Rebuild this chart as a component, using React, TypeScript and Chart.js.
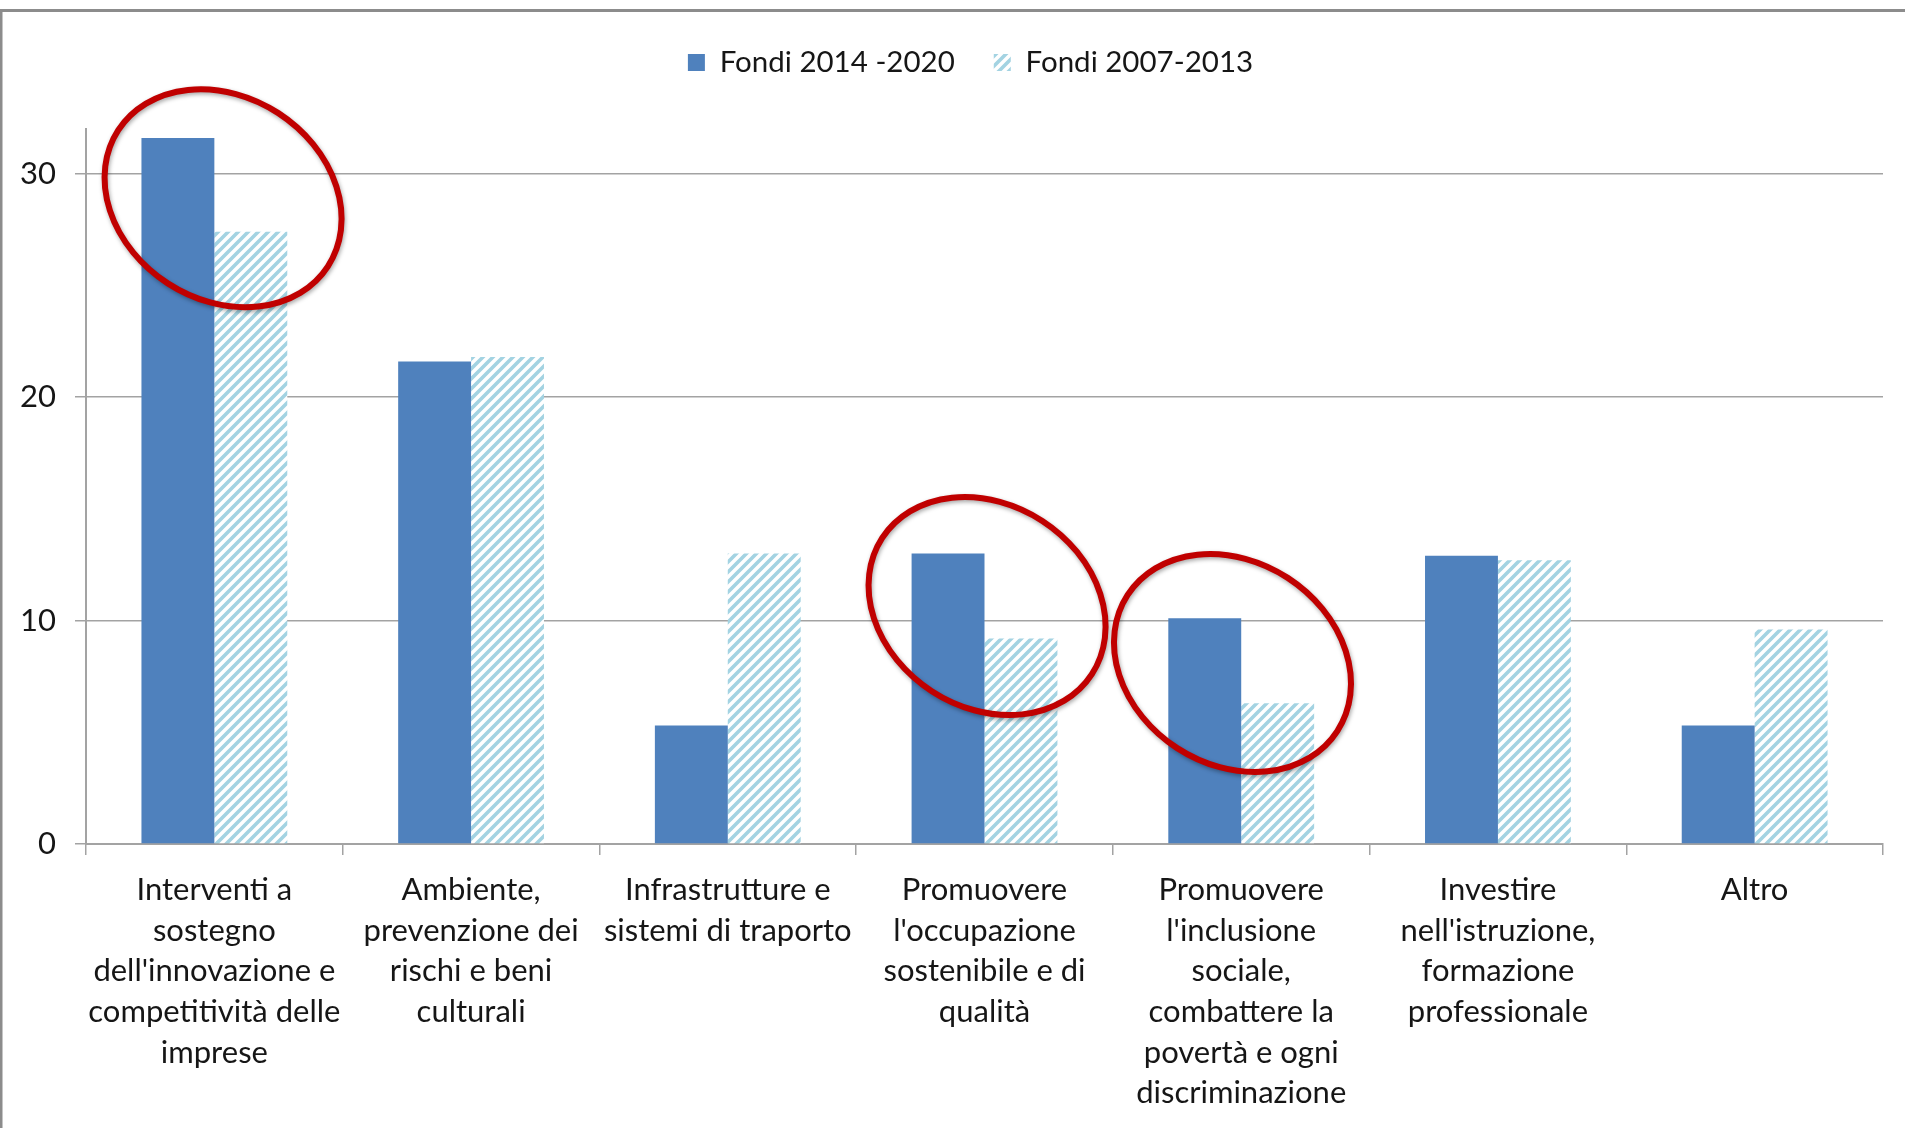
import React, { useEffect, useRef } from "react";
import { Chart, registerables } from "chart.js";

Chart.register(...registerables);

const categories: string[][] = [
  ["Interventi a", "sostegno", "dell'innovazione e", "competitività delle", "imprese"],
  ["Ambiente,", "prevenzione dei", "rischi e beni", "culturali"],
  ["Infrastrutture e", "sistemi di traporto"],
  ["Promuovere", "l'occupazione", "sostenibile e di", "qualità"],
  ["Promuovere", "l'inclusione", "sociale,", "combattere la", "povertà e ogni", "discriminazione"],
  ["Investire", "nell'istruzione,", "formazione", "professionale"],
  ["Altro"],
];

const seriesNames = ["Fondi 2014 -2020", "Fondi 2007-2013"];
const fondi20142020 = [31.6, 21.6, 5.3, 13.0, 10.1, 12.9, 5.3];
const fondi20072013 = [27.4, 21.8, 13.0, 9.2, 6.3, 12.7, 9.6];

// highlighted groups: category index, horizontal offset (in categories), centre value
const highlightCategory = [0, 3, 4];
const highlightOffset = [0.034, 0.01, -0.034];
const highlightValue = [28.9, 10.65, 8.1];

const FONT = "Lato, 'Open Sans', sans-serif";
const TEXT = "#161616";
const GRID = "#a3a3a3";
const LEGEND_SHIFT = 29;

function makeHatch(): CanvasPattern | string {
  const s = 10;
  const c = document.createElement("canvas");
  c.width = s;
  c.height = s;
  const g = c.getContext("2d");
  if (!g) return "#a3d3e2";
  g.fillStyle = "#ffffff";
  g.fillRect(0, 0, s, s);
  g.strokeStyle = "#a3d3e2";
  g.lineWidth = 3.6;
  g.lineCap = "square";
  g.beginPath();
  g.moveTo(-2, 2);
  g.lineTo(2, -2);
  g.moveTo(0, s);
  g.lineTo(s, 0);
  g.moveTo(s - 2, s + 2);
  g.lineTo(s + 2, s - 2);
  g.stroke();
  const p = g.createPattern(c, "repeat");
  return p || "#a3d3e2";
}

const framePlugin = {
  id: "frame",
  beforeDraw(chart: any) {
    const ctx = chart.ctx;
    ctx.save();
    ctx.fillStyle = "#ffffff";
    ctx.fillRect(0, 0, chart.width, chart.height);
    ctx.strokeStyle = "#8c8c8c";
    ctx.lineWidth = 3;
    ctx.beginPath();
    ctx.moveTo(0, 10.5);
    ctx.lineTo(chart.width, 10.5);
    ctx.moveTo(1, 10);
    ctx.lineTo(1, chart.height);
    ctx.stroke();
    ctx.restore();
  },
};

const legendShiftPlugin = {
  id: "legendShift",
  afterLayout(chart: any) {
    const lg = chart.legend;
    if (lg) {
      lg.left += LEGEND_SHIFT;
      lg.right += LEGEND_SHIFT;
    }
  },
};

const ellipsePlugin = {
  id: "highlights",
  afterDatasetsDraw(chart: any) {
    const ctx = chart.ctx;
    const xs = chart.scales.x;
    const ys = chart.scales.y;
    const catW = xs.getPixelForValue(1) - xs.getPixelForValue(0);
    ctx.save();
    ctx.strokeStyle = "#c00000";
    ctx.lineWidth = 6;
    ctx.shadowColor = "rgba(0,0,0,0.35)";
    ctx.shadowBlur = 4;
    ctx.shadowOffsetX = 1;
    ctx.shadowOffsetY = 2;
    highlightCategory.forEach((ci, i) => {
      const cx = xs.getPixelForValue(ci) + highlightOffset[i] * catW;
      const cy = ys.getPixelForValue(highlightValue[i]);
      ctx.beginPath();
      ctx.ellipse(cx, cy, 125, 101.5, (33 * Math.PI) / 180, 0, Math.PI * 2);
      ctx.stroke();
    });
    ctx.restore();
  },
};

export default function App() {
  const ref = useRef<HTMLCanvasElement | null>(null);

  useEffect(() => {
    if (!ref.current) return;
    document.body.style.margin = "0";
    const hatch = makeHatch();
    const chart = new Chart(ref.current, {
      type: "bar",
      data: {
        labels: categories,
        datasets: [
          {
            label: seriesNames[0],
            data: fondi20142020,
            backgroundColor: "#4f81bd",
            borderWidth: 0,
            categoryPercentage: 0.568,
            barPercentage: 1,
          },
          {
            label: seriesNames[1],
            data: fondi20072013,
            backgroundColor: hatch as any,
            borderWidth: 0,
            categoryPercentage: 0.568,
            barPercentage: 1,
          },
        ],
      },
      options: {
        responsive: false,
        animation: false,
        layout: { padding: { top: 8.75, left: 0, right: 22, bottom: 0 } },
        plugins: {
          legend: {
            position: "top",
            labels: {
              boxWidth: 17,
              boxHeight: 17,
              padding: 39,
              color: TEXT,
              font: { family: FONT, size: 29.5 },
            },
          },
          title: {
            display: true,
            text: "",
            weight: 500,
            font: { size: 10, lineHeight: 1 },
            padding: { top: 0, bottom: 31.75 },
          } as any,
          tooltip: { enabled: false },
        },
        scales: {
          x: {
            grid: {
              display: true,
              drawOnChartArea: false,
              drawTicks: true,
              tickLength: 11,
              offset: true,
              color: GRID,
              lineWidth: 1.5,
            },
            border: { color: GRID, width: 2 },
            ticks: {
              maxRotation: 0,
              minRotation: 0,
              autoSkip: false,
              padding: 14.5,
              color: TEXT,
              font: { family: FONT, size: 31, lineHeight: 1.313 },
            },
            afterFit: (s: any) => {
              s.height = 284;
            },
          },
          y: {
            min: 0,
            max: 32,
            grid: { color: GRID, lineWidth: 1.5, tickLength: 11, drawTicks: true },
            border: { color: GRID, width: 2 },
            ticks: {
              stepSize: 10,
              includeBounds: false,
              padding: 19,
              color: TEXT,
              font: { family: FONT, size: 31 },
            },
            afterFit: (s: any) => {
              s.width = 86;
            },
          },
        },
      },
      plugins: [framePlugin, legendShiftPlugin, ellipsePlugin],
    });
    return () => chart.destroy();
  }, []);

  return (
    <div style={{ position: "fixed", left: 0, top: 0, width: 1905, height: 1128 }}>
      <canvas ref={ref} width={1905} height={1128} style={{ width: 1905, height: 1128 }} />
    </div>
  );
}
